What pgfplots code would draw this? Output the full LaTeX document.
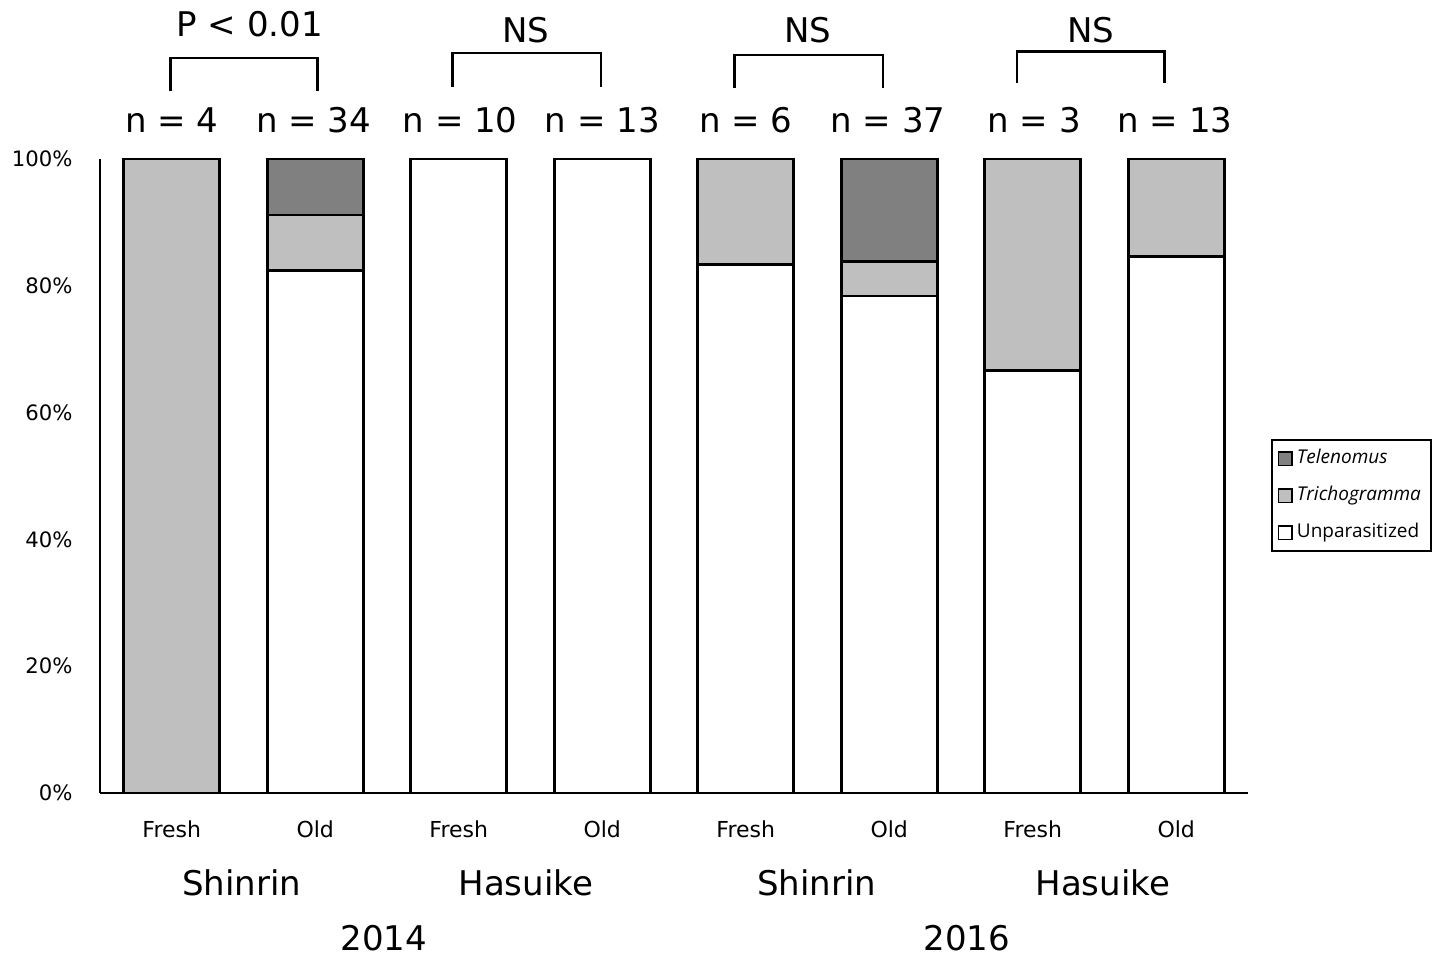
\documentclass[border=0pt]{standalone}
\usepackage{fontspec}
\setmainfont{DejaVu Sans}
\newfontfamily\legendfont{Open Sans}
\usepackage{pgfplots}
\pgfplotsset{compat=1.18}
\definecolor{telen}{RGB}{128,128,128}
\definecolor{trich}{RGB}{191,191,191}
\begin{document}
\begin{tikzpicture}
\useasboundingbox (-50pt,-82pt) rectangle (667pt,396.5pt);
\begin{axis}[
  at={(0,0)}, anchor=south west,
  scale only axis, width=574pt, height=317pt,
  xmin=-0.5, xmax=7.5, ymin=0, ymax=100,
  ybar stacked, bar width=48pt,
  axis lines*=left, axis line style={line width=1.3pt},
  ytick={0,20,40,60,80,100},
  yticklabels={0\%,20\%,40\%,60\%,80\%,100\%},
  major tick length=0pt,
  yticklabel style={anchor=east, inner sep=0pt, xshift=-13.5pt, font=\fontsize{10.6}{10.6}\selectfont},
  xtick={0,1,2,3,4,5,6,7},
  xticklabels={Fresh,Old,Fresh,Old,Fresh,Old,Fresh,Old},
  xticklabel style={anchor=center, inner sep=0pt, yshift=-18pt, font=\fontsize{11}{11}\selectfont},
  clip=false,
  reverse legend,
  legend cell align=left,
  legend image code/.code={\draw[#1, line width=0.8pt] (0pt,-3.4pt) rectangle (6.8pt,3.4pt);},
  legend style={at={(1.020,0.558)}, anchor=north west, draw=black, line width=0.8pt,
    font=\legendfont\fontsize{9.5}{9.5}\selectfont, row sep=5pt, inner xsep=3pt, inner ysep=2.5pt,
    nodes={inner sep=2pt, text height=7pt, text depth=2.5pt}},
]
\addplot[fill=white, draw=black, line width=1.4pt] coordinates {(0,0) (1,82.35) (2,100) (3,100) (4,83.33) (5,78.38) (6,66.67) (7,84.62)};
\addlegendentry{Unparasitized}
\addplot[fill=trich, draw=black, line width=1.4pt] coordinates {(0,100) (1,8.82) (2,0) (3,0) (4,16.67) (5,5.41) (6,33.33) (7,15.38)};
\addlegendentry{\textit{Trichogramma}}
\addplot[fill=telen, draw=black, line width=1.4pt] coordinates {(0,0) (1,8.83) (2,0) (3,0) (4,0) (5,16.21) (6,0) (7,0)};
\addlegendentry{\textit{Telenomus}}

% significance brackets
\draw[line width=1.3pt] (axis cs:-0.007,110.7) -- (axis cs:-0.007,115.9) -- (axis cs:1.017,115.9) -- (axis cs:1.017,110.7);
\draw[line width=1.3pt] (axis cs:1.958,111.4) -- (axis cs:1.958,116.7) -- (axis cs:2.990,116.7) -- (axis cs:2.990,111.4);
\draw[line width=1.3pt] (axis cs:3.923,111.2) -- (axis cs:3.923,116.4) -- (axis cs:4.955,116.4) -- (axis cs:4.955,111.2);
\draw[line width=1.3pt] (axis cs:5.889,112.0) -- (axis cs:5.889,117.0) -- (axis cs:6.920,117.0) -- (axis cs:6.920,112.0);

\tikzset{big/.style={font=\fontsize{17}{17}\selectfont, inner sep=0pt, anchor=center}}
\node[big] at (axis cs:0.544,121.3) {P < 0.01};
\node[big] at (axis cs:2.467,120.3) {NS};
\node[big] at (axis cs:4.432,120.3) {NS};
\node[big] at (axis cs:6.404,120.3) {NS};

\node[big] at (axis cs:0,106.2) {n = 4};
\node[big] at (axis cs:0.99,106.2) {n = 34};
\node[big] at (axis cs:2.01,106.2) {n = 10};
\node[big] at (axis cs:3,106.2) {n = 13};
\node[big] at (axis cs:4,106.2) {n = 6};
\node[big] at (axis cs:4.99,106.2) {n = 37};
\node[big] at (axis cs:6.01,106.2) {n = 3};
\node[big] at (axis cs:6.99,106.2) {n = 13};

\node[big] at (axis cs:0.488,-14.2) {Shinrin};
\node[big] at (axis cs:2.467,-14.2) {Hasuike};
\node[big] at (axis cs:4.495,-14.2) {Shinrin};
\node[big] at (axis cs:6.488,-14.2) {Hasuike};
\node[big] at (axis cs:1.477,-22.9) {2014};
\node[big] at (axis cs:5.54,-22.9) {2016};
\end{axis}
\end{tikzpicture}
\end{document}
